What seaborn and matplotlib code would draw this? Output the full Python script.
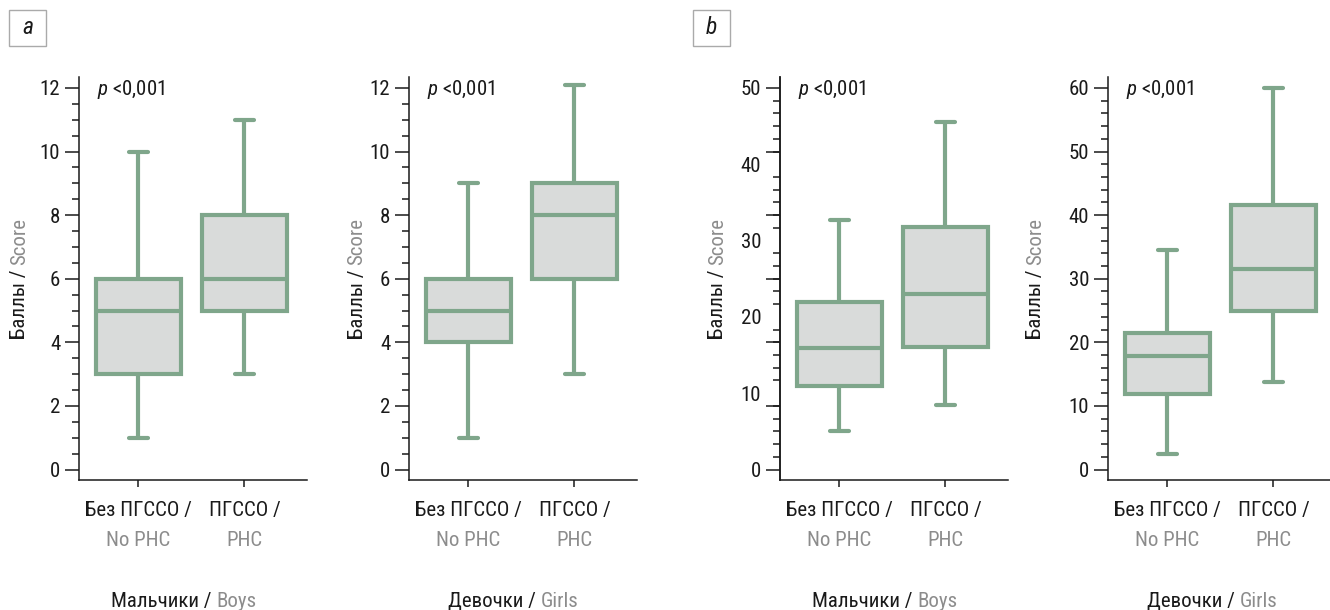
import numpy as np
import pandas as pd
import matplotlib
matplotlib.use("Agg")
import matplotlib.pyplot as plt
import matplotlib.font_manager as fm
from matplotlib.patches import Rectangle
from matplotlib.transforms import IdentityTransform
from matplotlib.ticker import MultipleLocator, FixedLocator
import seaborn as sns

# ---------------- data (five-number summaries: min, Q1, median, Q3, max) ----------------
categories_ru = ["Без ПГССО /", "ПГССО /"]
categories_en = ["No PHC", "PHC"]
groups_ru = ["Мальчики /", "Девочки /", "Мальчики /", "Девочки /"]
groups_en = ["Boys", "Girls", "Boys", "Girls"]
panel_letters = ["a", "b"]
p_text = "<0,001"
ylabel_ru = "Баллы /"
ylabel_en = "Score"

a_boys_no = [1, 3, 5, 6, 10]
a_boys_phc = [3, 5, 6, 8, 11]
a_girls_no = [1, 4, 5, 6, 9]
a_girls_phc = [3, 6, 8, 9, 12.1]
b_boys_no = [5.1, 11, 15.9, 22, 32.7]
b_boys_phc = [8.4, 16, 23, 31.8, 45.6]
b_girls_no = [2.5, 11.8, 17.8, 21.5, 34.5]
b_girls_phc = [13.7, 24.9, 31.6, 41.6, 60]

y_max = [12, 12, 50, 60]
y_major = [2, 2, 10, 10]
y_minor = [0.5, 0.5, 50 / 30, 2]

panels = [(a_boys_no, a_boys_phc), (a_girls_no, a_girls_phc),
          (b_boys_no, b_boys_phc), (b_girls_no, b_girls_phc)]
rows = []
for pi, (no, phc) in enumerate(panels):
    for v in no:
        rows.append((pi, categories_en[0], v))
    for v in phc:
        rows.append((pi, categories_en[1], v))
df = pd.DataFrame(rows, columns=["panel", "group", "value"])

# ---------------- style ----------------
sns.set_style("ticks")
names = {f.name for f in fm.fontManager.ttflist}
FONT = None
for cand in ["Roboto Condensed", "Liberation Sans Narrow", "Roboto"]:
    if cand in names:
        FONT = cand
        break
if FONT is None:
    FONT = "DejaVu Sans"
plt.rcParams["font.family"] = [FONT, "DejaVu Sans"]
plt.rcParams["mathtext.fontset"] = "custom"
plt.rcParams["mathtext.rm"] = FONT
plt.rcParams["mathtext.it"] = FONT + ":italic"

GREEN = "#7fa68b"
FILL = "#d9dbda"
BLACK = "#1a1a1a"
GRAY = "#8c8c8c"
FS = 15

W, H = 1330, 610
fig = plt.figure(figsize=(W / 100, H / 100), dpi=100)
lefts = [79, 409, 780, 1108]
ylab_off = [61, 54, 64, 74]
axes = []
for i, l in enumerate(lefts):
    ax = fig.add_axes([l / W, 130 / H, 228 / W, 403 / H])
    axes.append(ax)
    sub = df[df.panel == i]
    sns.boxplot(data=sub, x="group", y="value", order=categories_en, ax=ax,
                whis=(0, 100), width=0.8, color=FILL, linecolor=GREEN,
                linewidth=3, saturation=1, showfliers=False, capwidths=0.18)
    R = y_max[i]
    ax.set_xlim(-0.561, 1.59)
    ax.set_ylim(-0.0275 * R, 1.0288 * R)
    for s in ["top", "right"]:
        ax.spines[s].set_visible(False)
    for s in ["left", "bottom"]:
        ax.spines[s].set_linewidth(1.1)
        ax.spines[s].set_color(BLACK)
    ax.set_xlabel("")
    ax.set_ylabel("")
    ax.set_xticks([0, 1])
    ax.set_xticklabels(["", ""])
    ax.tick_params(axis="x", length=5, width=1.1, color=BLACK)
    ax.yaxis.set_major_locator(MultipleLocator(y_major[i]))
    ax.yaxis.set_minor_locator(MultipleLocator(y_minor[i]))
    ax.tick_params(axis="y", which="major", length=10, width=1.1, pad=3.5,
                   labelsize=FS, colors=BLACK)
    ax.tick_params(axis="y", which="minor", length=5, width=1.1, color=BLACK)
    if i == 2:
        # reference: long ticks follow a 6-step division, labels every 10
        ax.tick_params(axis="y", which="major", length=0, pad=13.5)
        sec = ax.secondary_yaxis("left")
        sec.yaxis.set_major_locator(FixedLocator(np.arange(0, 50.01, 50 / 6)))
        sec.tick_params(axis="y", which="major", length=10, width=1.1,
                        labelleft=False, color=BLACK)
        sec.spines["left"].set_linewidth(1.1)
        sec.spines["left"].set_color(BLACK)

r = fig.canvas.get_renderer()
ID = IdentityTransform()


def measure(s, size=FS):
    t = fig.text(0, 0, s, fontsize=size, transform=ID)
    w = t.get_window_extent(r).width
    t.remove()
    return w


GAP = measure("x x") - measure("xx")


def two_tone(x, y, black, gray, rotation=0, size=FS):
    wb = measure(black, size)
    wg = measure(gray, size)
    total = wb + GAP + wg
    kw = dict(ha="left", va="baseline", rotation=rotation,
              rotation_mode="anchor", transform=ID, fontsize=size)
    if rotation == 0:
        s = x - total / 2
        fig.text(s, y, black, color=BLACK, **kw)
        fig.text(s + wb + GAP, y, gray, color=GRAY, **kw)
    else:
        s = y - total / 2
        fig.text(x, s, black, color=BLACK, **kw)
        fig.text(x, s + wb + GAP, gray, color=GRAY, **kw)


for i, ax in enumerate(axes):
    bb = ax.get_window_extent(r)
    x0 = bb.x0
    # category labels, two lines
    for k in range(2):
        px = ax.transData.transform((k, 0))[0]
        fig.text(px, H - 516, categories_ru[k], color=BLACK, ha="center",
                 va="baseline", transform=ID, fontsize=FS)
        fig.text(px, H - 546, categories_en[k], color=GRAY, ha="center",
                 va="baseline", transform=ID, fontsize=FS)
    # group label
    mid = ax.transData.transform((0.5, 0))[0] - 8
    two_tone(mid, H - 607, groups_ru[i], groups_en[i])
    # y label
    yc = (bb.y0 + bb.y1) / 2
    two_tone(x0 - ylab_off[i] + 0.36 * FS * 100 / 72, yc, ylabel_ru, ylabel_en,
             rotation=90)
    # p-value
    ytop = ax.transData.transform((0, y_max[i]))[1]
    fig.text(x0 + 18, ytop - 7, r"$\it{p}$ " + p_text, color=BLACK, ha="left",
             va="baseline", transform=ID, fontsize=FS)

# panel letters
for lx, letter in zip([9, 693], panel_letters):
    fig.add_artist(Rectangle((lx, H - 46), 37, 36, transform=ID, fill=False,
                             ec="#aaaaaa", lw=1))
    fig.text(lx + 18.5, H - 28, letter, ha="center", va="center", style="italic",
             fontsize=17, color=BLACK, transform=ID)

fig.savefig("out.png", dpi=100)
